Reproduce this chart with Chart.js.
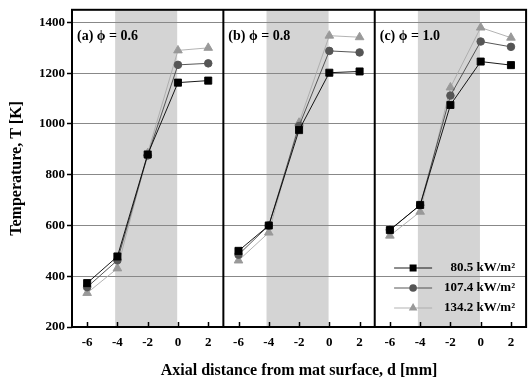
<!DOCTYPE html>
<html>
<head>
<meta charset="utf-8">
<script src="https://cdn.jsdelivr.net/npm/chart.js@4.4.0/dist/chart.umd.min.js"></script>
<style>
  body { margin: 0; background: #fff; }
  #wrap { width: 532px; height: 382px; }
</style>
</head>
<body>
<div id="wrap"><canvas id="tempChart"></canvas></div>
<script>
// axial distance positions (same in every panel)
const distance = [-6, -4, -2, 0, 2];
const yTicks = [200, 400, 600, 800, 1000, 1200, 1400];
const panelLabels = ['(a) \u03D5 = 0.6', '(b) \u03D5 = 0.8', '(c) \u03D5 = 1.0'];
const seriesLabels = ['80.5 kW/m\u00B2', '107.4 kW/m\u00B2', '134.2 kW/m\u00B2'];

// temperature [K], one row per panel (a, b, c)
const temp805 = [
    [373, 478, 880, 1163, 1171],
    [500, 600, 976, 1202, 1207],
    [582, 681, 1075, 1246, 1232]
];
const temp1074 = [
    [357, 463, 876, 1233, 1239],
    [485, 600, 992, 1288, 1282],
    [583, 680, 1112, 1325, 1304]
];
const temp1342 = [
    [334, 431, 885, 1290, 1300],
    [462, 572, 1005, 1348, 1342],
    [560, 654, 1144, 1380, 1340]
];

const PANEL = 10;        // width of one panel in x units
const XMIN = -7, XMAX = 3;
const FONT = "'Liberation Serif', 'Times New Roman', serif";

function buildSeries(rows) {
    const pts = [];
    rows.forEach((row, p) => {
        row.forEach((t, i) => pts.push({ x: distance[i] + p * PANEL, y: t }));
        pts.push({ x: XMAX + p * PANEL, y: null }); // break line between panels
    });
    return pts;
}

const styles = [
    { color: '#000', line: '#000', pointStyle: 'rect', radius: 5 },
    { color: '#555', line: '#444', pointStyle: 'circle', radius: 3.8 },
    { color: '#999', line: '#aaa', pointStyle: 'triangle', radius: 5 }
];

const datasets = [temp805, temp1074, temp1342].map((rows, k) => ({
    label: seriesLabels[k],
    data: buildSeries(rows),
    borderColor: styles[k].line,
    backgroundColor: styles[k].color,
    pointBackgroundColor: styles[k].color,
    pointBorderColor: styles[k].color,
    pointStyle: styles[k].pointStyle,
    pointRadius: styles[k].radius,
    borderWidth: 0.9,
    spanGaps: false,
    tension: 0
}));

const decorPlugin = {
    id: 'decor',
    beforeDraw(chart) {
        const { ctx, chartArea: a, scales: { x } } = chart;
        ctx.save();
        ctx.fillStyle = '#fff';
        ctx.fillRect(0, 0, chart.width, chart.height);
        // shaded mat region in each panel
        ctx.fillStyle = '#d4d4d4';
        for (let p = 0; p < 3; p++) {
            const x1 = x.getPixelForValue(-4.15 + p * PANEL);
            const x2 = x.getPixelForValue(-0.05 + p * PANEL);
            ctx.fillRect(x1, a.top, x2 - x1, a.bottom - a.top);
        }
        ctx.restore();
    },
    afterDraw(chart) {
        const { ctx, chartArea: a, scales: { x } } = chart;
        ctx.save();
        ctx.strokeStyle = '#000';

        // inward x ticks
        ctx.lineWidth = 1.5;
        x.ticks.forEach(t => {
            const px = Math.round(x.getPixelForValue(t.value)) + 0.5;
            ctx.beginPath();
            ctx.moveTo(px, a.bottom);
            ctx.lineTo(px, a.bottom - 5);
            ctx.stroke();
        });

        // frame and panel dividers
        ctx.lineWidth = 2;
        ctx.strokeRect(a.left, a.top, a.right - a.left, a.bottom - a.top);
        for (let p = 1; p < 3; p++) {
            const px = x.getPixelForValue(XMIN + p * PANEL);
            ctx.beginPath();
            ctx.moveTo(px, a.top);
            ctx.lineTo(px, a.bottom);
            ctx.stroke();
        }

        // panel labels
        ctx.fillStyle = '#000';
        ctx.font = 'bold 14px ' + FONT;
        ctx.textBaseline = 'middle';
        ctx.textAlign = 'left';
        panelLabels.forEach((lab, p) => {
            ctx.fillText(lab, x.getPixelForValue(XMIN + p * PANEL) + 5, a.top + 27);
        });

        // legend in panel (c)
        ctx.font = 'bold 13px ' + FONT;
        ctx.textAlign = 'right';
        chart.data.datasets.forEach((ds, k) => {
            const y = a.bottom - 59 + k * 20;
            const s = styles[k];
            ctx.strokeStyle = s.line;
            ctx.lineWidth = 0.9;
            ctx.beginPath();
            ctx.moveTo(a.right - 132, y);
            ctx.lineTo(a.right - 94, y);
            ctx.stroke();
            const cx = a.right - 113;
            ctx.fillStyle = s.color;
            ctx.beginPath();
            if (s.pointStyle === 'rect') {
                ctx.rect(cx - 3.5, y - 3.5, 7, 7);
            } else if (s.pointStyle === 'circle') {
                ctx.arc(cx, y, s.radius, 0, Math.PI * 2);
            } else {
                ctx.moveTo(cx, y - 5);
                ctx.lineTo(cx + 4.3, y + 2.5);
                ctx.lineTo(cx - 4.3, y + 2.5);
                ctx.closePath();
            }
            ctx.fill();
            ctx.fillStyle = '#000';
            ctx.fillText(ds.label, a.right - 11, y);
        });
        ctx.restore();
    }
};

new Chart(document.getElementById('tempChart'), {
    type: 'line',
    data: { datasets },
    options: {
        responsive: true,
        maintainAspectRatio: false,
        animation: false,
        layout: { padding: { top: 7, right: 1, left: 0, bottom: 0 } },
        plugins: { legend: { display: false }, tooltip: { enabled: false } },
        scales: {
            x: {
                type: 'linear',
                min: XMIN,
                max: XMAX + 2 * PANEL,
                afterBuildTicks: scale => {
                    const ticks = [];
                    for (let p = 0; p < 3; p++) distance.forEach(d => ticks.push({ value: d + p * PANEL }));
                    scale.ticks = ticks;
                },
                afterFit: scale => { scale.height = 55; },
                grid: { display: false },
                border: { display: false },
                ticks: {
                    color: '#000',
                    font: { family: FONT, size: 13, weight: 'bold' },
                    padding: 0,
                    maxRotation: 0,
                    autoSkip: false,
                    callback: v => {
                        const p = Math.floor((v - XMIN) / PANEL);
                        return String(v - p * PANEL);
                    }
                },
                title: {
                    display: true,
                    text: 'Axial distance from mat surface, d [mm]',
                    color: '#000',
                    font: { family: FONT, size: 16, weight: 'bold' },
                    padding: { top: 6, bottom: 2 }
                }
            },
            y: {
                min: 200,
                max: 1450,
                afterBuildTicks: scale => { scale.ticks = yTicks.map(v => ({ value: v })); },
                afterFit: scale => { scale.width = 72; },
                border: { display: false },
                grid: {
                    color: '#888',
                    borderDash: [1, 2],
                    lineWidth: 1,
                    drawTicks: true,
                    tickLength: 5,
                    tickColor: '#000',
                    tickBorderDash: [],
                    tickWidth: 1.5
                },
                ticks: {
                    color: '#000',
                    font: { family: FONT, size: 13, weight: 'bold' },
                    padding: 2,
                    callback: v => String(v)
                },
                title: {
                    display: true,
                    text: 'Temperature, T [K]',
                    color: '#000',
                    font: { family: FONT, size: 16, weight: 'bold' },
                    padding: { top: 7, bottom: 4 }
                }
            }
        }
    },
    plugins: [decorPlugin]
});
</script>
</body>
</html>
